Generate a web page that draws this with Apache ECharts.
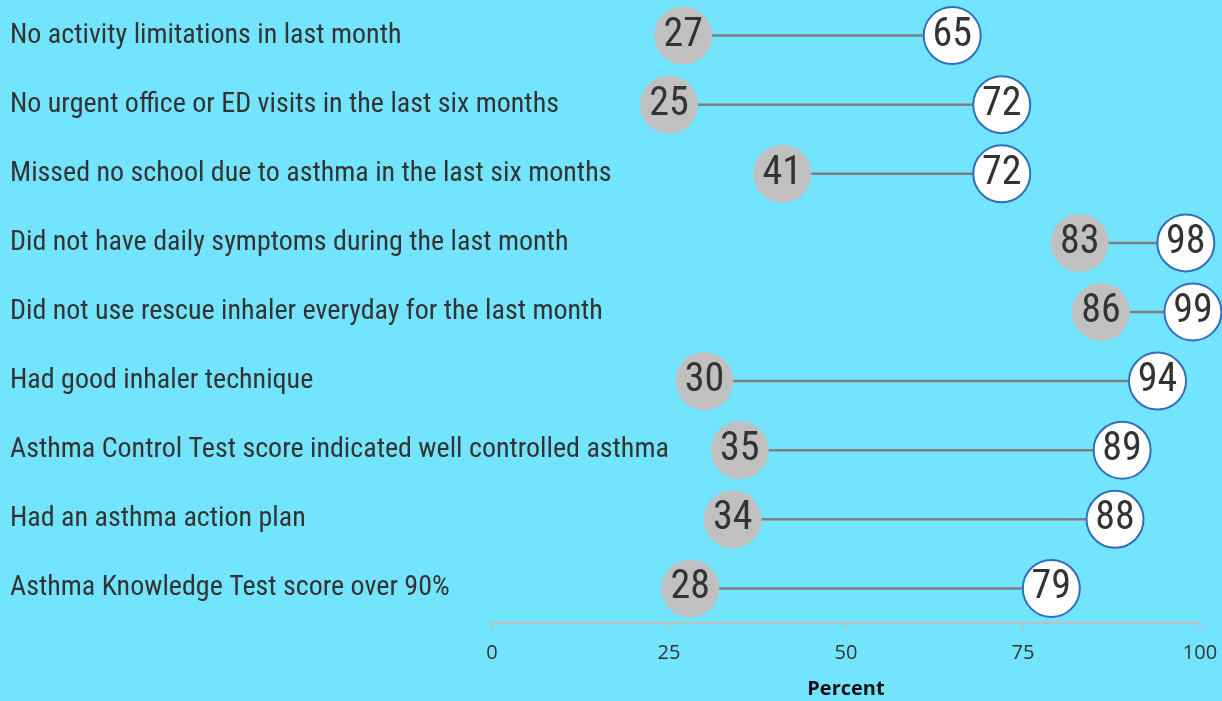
<!DOCTYPE html>
<html>
<head>
<meta charset="utf-8">
<script src="https://cdn.jsdelivr.net/npm/echarts@6/dist/echarts.min.js"></script>
<style>
html,body{margin:0;padding:0;background:#73e4fe;}
#chart{width:1222px;height:701px;}
</style>
</head>
<body>
<div id="chart"></div>
<script>
const categories = [
  "No activity limitations in last month",
  "No urgent office or ED visits in the last six months",
  "Missed no school due to asthma in the last six months",
  "Did not have daily symptoms during the last month",
  "Did not use rescue inhaler everyday for the last month",
  "Had good inhaler technique",
  "Asthma Control Test score indicated well controlled asthma",
  "Had an asthma action plan",
  "Asthma Knowledge Test score over 90%"
];
const beforeValues = [27, 25, 41, 83, 86, 30, 35, 34, 28];
const afterValues = [65, 72, 72, 98, 99, 94, 89, 88, 79];
const xTicks = [0, 25, 50, 75, 100];

const condensed = "'Roboto Condensed','Liberation Sans Narrow','DejaVu Sans Condensed',sans-serif";
const chart = echarts.init(document.getElementById('chart'));
chart.setOption({
  backgroundColor: '#73e4fe',
  animation: false,
  grid: {left: 492, right: 22, top: 1, bottom: 78, containLabel: false, outerBoundsMode: 'none'},
  xAxis: {
    type: 'value', min: xTicks[0], max: xTicks[xTicks.length - 1], interval: 25,
    axisLine: {show: true, lineStyle: {color: '#bfbfbf', width: 2}},
    axisTick: {show: true, length: 6, lineStyle: {color: '#bfbfbf', width: 2}},
    splitLine: {show: false},
    axisLabel: {color: '#333', fontSize: 20, fontFamily: "'Open Sans',sans-serif", margin: 20},
    name: 'Percent', nameLocation: 'middle', nameGap: 56,
    nameTextStyle: {color: '#111', fontSize: 20, fontWeight: 'bold', fontFamily: "'Open Sans',sans-serif"}
  },
  yAxis: {
    type: 'category', inverse: true, data: categories,
    axisLine: {show: false}, axisTick: {show: false}, splitLine: {show: false},
    axisLabel: {align: 'left', margin: 482, color: '#333', fontSize: 28, fontFamily: condensed}
  },
  series: [
    {
      type: 'custom', z: 1,
      data: categories.map((c, i) => [beforeValues[i], afterValues[i], i]),
      encode: {x: [0, 1], y: 2},
      renderItem: function (params, api) {
        const p1 = api.coord([api.value(0), api.value(2)]);
        const p2 = api.coord([api.value(1), api.value(2)]);
        return {type: 'line', shape: {x1: p1[0], y1: p1[1], x2: p2[0], y2: p2[1]},
                style: {stroke: '#7f7f7f', lineWidth: 2.5}};
      }
    },
    {
      type: 'scatter', z: 3, symbolSize: 58,
      data: categories.map((c, i) => [beforeValues[i], c]),
      itemStyle: {color: '#c0c0c0', opacity: 1},
      label: {show: true, position: 'inside', formatter: p => p.value[0],
              color: '#333', fontSize: 40, fontFamily: condensed}
    },
    {
      type: 'scatter', z: 3, symbolSize: 57,
      data: categories.map((c, i) => [afterValues[i], c]),
      itemStyle: {color: '#ffffff', borderColor: '#2f6fbd', borderWidth: 2, opacity: 1},
      label: {show: true, position: 'inside', formatter: p => p.value[0],
              color: '#333', fontSize: 40, fontFamily: condensed}
    }
  ]
});
</script>
</body>
</html>
